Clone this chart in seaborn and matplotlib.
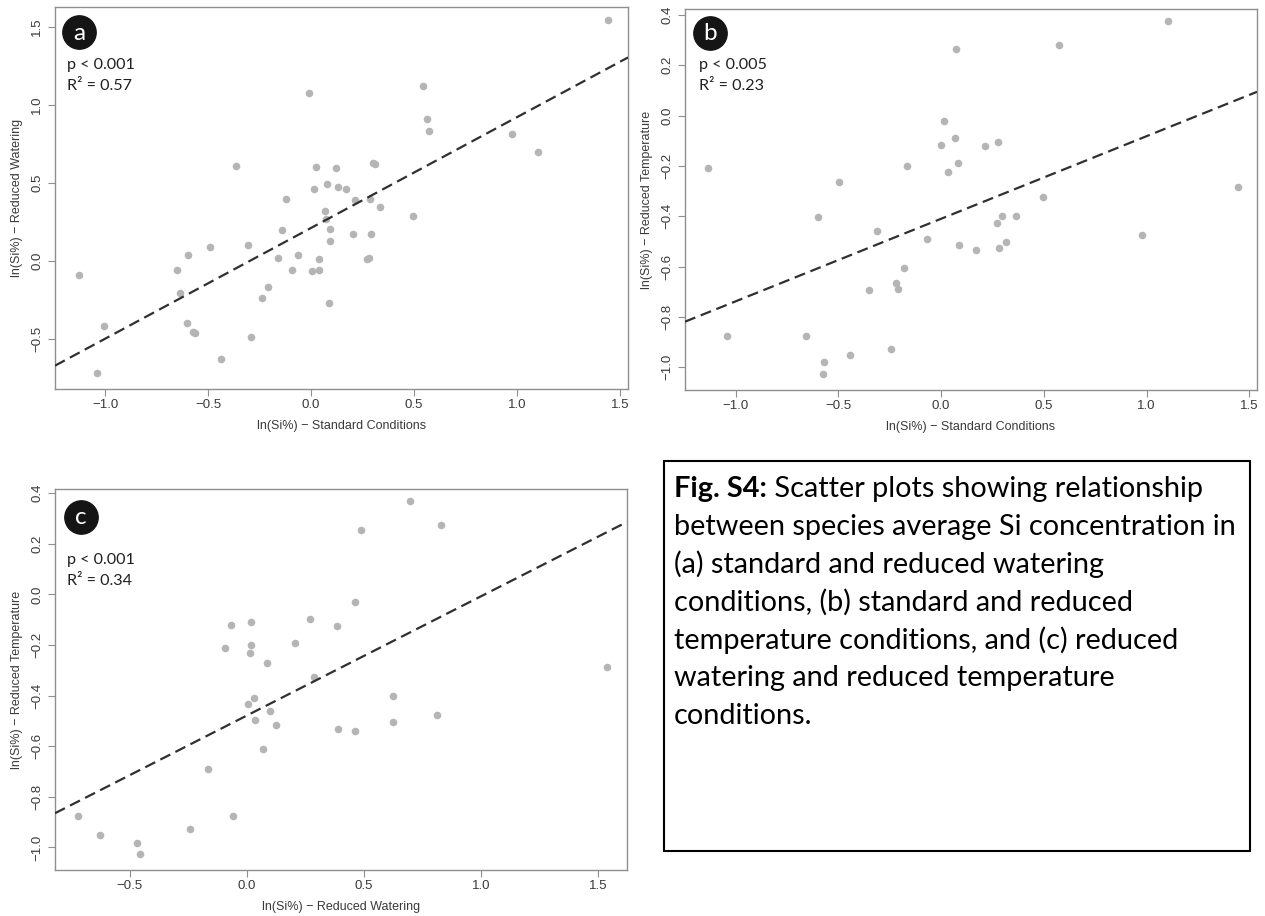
import numpy as np
import pandas as pd
import matplotlib
matplotlib.use("Agg")
import matplotlib.pyplot as plt
import seaborn as sns
from matplotlib.patches import Rectangle

# ---------------- data ----------------
# Panel a: standard (x) vs reduced watering (y)
a_std = [-1.126, -1.003, -1.037, -0.652, -0.596, -0.489, -0.636, -0.603, -0.571, -0.565,
         -0.437, -0.364, -0.304, -0.291, -0.238, -0.207, -0.162, -0.141, -0.120, -0.092,
         -0.065, -0.010, 0.003, 0.015, 0.024, 0.037, 0.039, 0.066, 0.073, 0.076,
         0.086, 0.090, 0.090, 0.123, 0.131, 0.170, 0.202, 0.215, 0.270, 0.282,
         0.285, 0.293, 0.300, 0.312, 0.336, 0.497, 0.544, 0.563, 0.574, 0.977,
         1.102, 1.443]
a_wat = [-0.090, -0.417, -0.718, -0.058, 0.036, 0.090, -0.205, -0.395, -0.455, -0.462,
         -0.626, 0.610, 0.105, -0.489, -0.239, -0.164, 0.019, 0.197, 0.400, -0.058,
         0.038, 1.080, -0.062, 0.460, 0.600, -0.060, 0.015, 0.318, 0.270, 0.494,
         -0.269, 0.207, 0.128, 0.598, 0.472, 0.464, 0.171, 0.389, 0.011, 0.021,
         0.395, 0.171, 0.628, 0.624, 0.346, 0.288, 1.122, 0.910, 0.833, 0.816,
         0.699, 1.543]

# Panel b: standard (x) vs reduced temperature (y)
b_std = [-1.133, -1.043, -0.657, -0.600, -0.571, -0.574, -0.495, -0.442, -0.352, -0.310,
         -0.242, -0.219, -0.212, -0.179, -0.167, -0.068, 0.000, 0.015, 0.034, 0.068,
         0.072, 0.084, 0.088, 0.169, 0.214, 0.270, 0.279, 0.284, 0.298, 0.314,
         0.364, 0.495, 0.573, 0.977, 1.104, 1.444]
b_tmp = [-0.207, -0.874, -0.874, -0.403, -0.980, -1.026, -0.265, -0.950, -0.694, -0.458,
         -0.926, -0.664, -0.688, -0.607, -0.199, -0.490, -0.118, -0.022, -0.226, -0.089,
         0.264, -0.189, -0.513, -0.535, -0.120, -0.428, -0.104, -0.527, -0.399, -0.502,
         -0.399, -0.324, 0.280, -0.474, 0.374, -0.285]

# Panel c: reduced watering (x) vs reduced temperature (y)
c_wat = [-0.722, -0.628, -0.467, -0.455, -0.242, -0.165, -0.094, -0.067, -0.060, 0.006,
         0.014, 0.017, 0.020, 0.033, 0.037, 0.070, 0.087, 0.101, 0.125, 0.205,
         0.269, 0.286, 0.385, 0.390, 0.461, 0.464, 0.488, 0.625, 0.625, 0.697,
         0.812, 0.830, 1.540]
c_tmp = [-0.876, -0.952, -0.981, -1.027, -0.928, -0.691, -0.213, -0.123, -0.877, -0.432,
         -0.231, -0.202, -0.110, -0.408, -0.495, -0.610, -0.270, -0.462, -0.517, -0.193,
         -0.096, -0.328, -0.125, -0.531, -0.539, -0.030, 0.256, -0.403, -0.505, 0.367,
         -0.478, 0.272, -0.289]

# fitted regression lines (intercept, slope)
fit_a = (0.212, 0.710)
fit_b = (-0.410, 0.328)
fit_c = (-0.479, 0.471)

xticks_std = [-1.0, -0.5, 0.0, 0.5, 1.0, 1.5]
xticks_wat = [-0.5, 0.0, 0.5, 1.0, 1.5]
yticks_a = [-0.5, 0.0, 0.5, 1.0, 1.5]
yticks_t = [-1.0, -0.8, -0.6, -0.4, -0.2, 0.0, 0.2, 0.4]

letters = ["a", "b", "c"]
p_texts = ["p < 0.001", "p < 0.005", "p < 0.001"]
r2_texts = ["R\u00b2 = 0.57", "R\u00b2 = 0.23", "R\u00b2 = 0.34"]
xlabels = ["ln(Si%) \u2212 Standard Conditions", "ln(Si%) \u2212 Standard Conditions",
           "ln(Si%) \u2212 Reduced Watering"]
ylabels = ["ln(Si%) \u2212 Reduced Watering", "ln(Si%) \u2212 Reduced Temperature",
           "ln(Si%) \u2212 Reduced Temperature"]

caption_bold = "Fig. S4:"
caption_lines = [" Scatter plots showing relationship",
                 "between species average Si concentration in",
                 "(a) standard and reduced watering",
                 "conditions, (b) standard and reduced",
                 "temperature conditions, and (c) reduced",
                 "watering and reduced temperature",
                 "conditions."]

# ---------------- figure ----------------
sns.set_theme(style="white")
plt.rcParams['font.family'] = ['Liberation Sans', 'DejaVu Sans']

W, H = 1265, 916
fig = plt.figure(figsize=(W / 100, H / 100), dpi=100)
fig.patch.set_facecolor("white")


def fx(px):
    return px / W


def fy(py):
    return 1 - py / H


def add_ax(l, t, r, b):
    return fig.add_axes([fx(l), fy(b), (r - l) / W, (b - t) / H])


ax_a = add_ax(55, 7, 628, 389)
ax_b = add_ax(685, 9, 1257, 390)
ax_c = add_ax(55, 489, 627, 870)

panels = [
    dict(ax=ax_a, x=a_std, y=a_wat, fit=fit_a, xt=xticks_std, yt=yticks_a,
         xlim=(-1.243, 1.539), ylim=(-0.82, 1.628), circ=(79, 32), txt=(67, 65)),
    dict(ax=ax_b, x=b_std, y=b_tmp, fit=fit_b, xt=xticks_std, yt=yticks_t,
         xlim=(-1.246, 1.537), ylim=(-1.09, 0.423), circ=(710, 33), txt=(699, 65)),
    dict(ax=ax_c, x=c_wat, y=c_tmp, fit=fit_c, xt=xticks_wat, yt=yticks_t,
         xlim=(-0.819, 1.624), ylim=(-1.089, 0.416), circ=(81, 517), txt=(67, 560)),
]

box_col = "#8f8f8f"
lab_col = "#3a3a3a"


def fmt(v):
    return f"{v:.1f}".replace("-", "\u2212")


for i, p in enumerate(panels):
    ax = p["ax"]
    df = pd.DataFrame({"x": p["x"], "y": p["y"]})
    sns.scatterplot(data=df, x="x", y="y", ax=ax, color="#b5b5b5", s=30,
                    linewidth=0, legend=False, zorder=3)
    b0, b1 = p["fit"]
    ax.axline((0, b0), slope=b1, color="#303030", lw=1.6, dashes=(5, 2.6), zorder=4)
    ax.set_xlim(*p["xlim"])
    ax.set_ylim(*p["ylim"])
    ax.set_xticks(p["xt"])
    ax.set_xticklabels([fmt(v) for v in p["xt"]])
    ax.set_yticks(p["yt"])
    ax.set_yticklabels([fmt(v) for v in p["yt"]], rotation=90, va="center")
    ax.tick_params(axis="both", which="major", direction="out", length=5, width=0.8,
                   color=box_col, labelsize=9.5, labelcolor=lab_col, bottom=True, left=True)
    ax.tick_params(axis="x", pad=2)
    ax.tick_params(axis="y", pad=3.5)
    for s in ax.spines.values():
        s.set_color(box_col)
        s.set_linewidth(1.0)
        s.set_visible(True)
    ax.set_xlabel(xlabels[i], fontsize=9.0, color=lab_col, labelpad=7)
    ax.set_ylabel(ylabels[i], fontsize=9.0, color=lab_col, labelpad=6)
    ax.set_facecolor("white")

    # letter badge
    cx, cy = p["circ"]
    fig.add_artist(plt.Line2D([fx(cx)], [fy(cy)], marker="o", markersize=24,
                              color="#151515", transform=fig.transFigure))
    fig.text(fx(cx), fy(cy + 1), letters[i], ha="center", va="center", color="white",
             fontsize=17.5, family=["Lato", "DejaVu Sans"])
    tx, ty = p["txt"]
    fig.text(fx(tx), fy(ty), p_texts[i], ha="left", va="center", color="#202020",
             fontsize=11.6, family=["Lato", "DejaVu Sans"])
    fig.text(fx(tx), fy(ty + 21), r2_texts[i], ha="left", va="center", color="#202020",
             fontsize=11.6, family=["Lato", "DejaVu Sans"])

# caption box
fig.add_artist(Rectangle((fx(664), fy(851)), (1250 - 664) / W, (851 - 461) / H,
                         transform=fig.transFigure, fill=False, edgecolor="black", lw=1.5))
cap_fs = 20.8
cap_font = ["Lato", "DejaVu Sans"]
x0 = fx(674)
y_first = 489
spacing = 37.8
tb = fig.text(x0, fy(y_first), caption_bold, ha="left", va="center", fontsize=cap_fs,
              fontweight="bold", family=cap_font, color="black")
fig.canvas.draw()
bb = tb.get_window_extent()
fig.text(bb.x1 / W, fy(y_first), caption_lines[0], ha="left", va="center",
         fontsize=cap_fs, family=cap_font, color="black")
for k, line in enumerate(caption_lines[1:], start=1):
    fig.text(x0, fy(y_first + k * spacing), line, ha="left", va="center",
             fontsize=cap_fs, family=cap_font, color="black")

fig.savefig("out.png", dpi=100, facecolor="white")
